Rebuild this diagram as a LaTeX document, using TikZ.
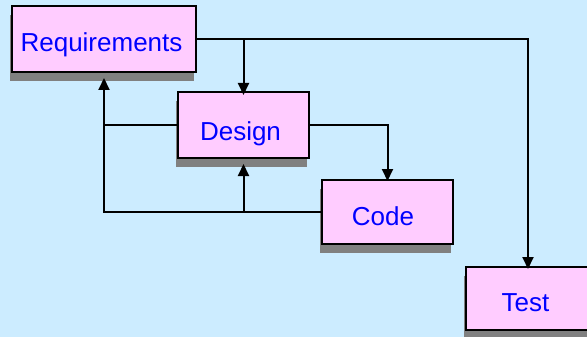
\documentclass[tikz,border=0pt]{standalone}
\usepackage{fontspec}
\setmainfont{Liberation Sans}
\usetikzlibrary{arrows.meta,calc}
\definecolor{bgblue}{RGB}{204,236,255}
\definecolor{boxpink}{RGB}{255,204,255}
\definecolor{shadowgray}{RGB}{128,128,128}
\definecolor{labelblue}{RGB}{0,0,255}
\tikzset{
  stage/.style={draw=black, line width=2pt, fill=boxpink, inner sep=0pt,
    minimum height=65pt, minimum width=131pt},
  stageshadow/.style={fill=shadowgray, draw=none, inner sep=0pt,
    minimum height=65pt, minimum width=131pt},
  stagetext/.style={anchor=base, text=labelblue, inner sep=0pt,
    font=\fontsize{26}{31}\selectfont},
  flow/.style={line width=2pt, draw=black},
  flowarrow/.style={flow, -{Triangle[length=12pt,width=11pt]}},
}
\begin{document}
\begin{tikzpicture}[x=1pt, y=-1pt]
  % canvas
  \fill[bgblue] (0,0) rectangle (587,337);
  \useasboundingbox (0,0) rectangle (587,337);
  \begin{scope}
    \clip (0,0) rectangle (587,337);
    % drop shadows
    \node[stageshadow, minimum width=184pt, minimum height=66pt] (reqsh) at (102,48) {};
    \node[stageshadow, minimum height=66pt] (dessh) at (241.5,134) {};
    \node[stageshadow, minimum height=64pt] (codesh) at (385.5,221) {};
    \node[stageshadow, minimum width=124pt, minimum height=63pt] (testsh) at (526,307.5) {};
    % stages
    \node[stage, minimum width=184pt, minimum height=66pt] (req) at (104,39) {};
    \node[stage, minimum height=66pt] (des) at (243.5,125) {};
    \node[stage, minimum height=64pt] (code) at (387.5,212) {};
    \node[stage, minimum width=124pt, minimum height=63pt] (test) at (528,298.5) {};
    % labels
    \node[stagetext] (reqt) at ($(req)+(-2.5,13)$) {Requirements};
    \node[stagetext] (dest) at ($(des)+(-3,15)$) {Design};
    \node[stagetext] (codet) at ($(code)+(-4.5,13)$) {Code};
    \node[stagetext] (testt) at ($(test)+(-2.5,12.5)$) {Test};
    % forward flow
    \draw[flowarrow, shorten >=-3pt] (req.east) -| (test.north);
    \draw[flowarrow, shorten >=-4pt] (req.east -| des.north) -- (des.north);
    \draw[flowarrow, shorten >=-2pt] (des.east) -| (code.north);
    % feedback
    \draw[flow] (code.west) -| (des.west -| req.south);
    \draw[flowarrow, shorten >=-5pt] (des.west) -| ($(req.south)+(0,10)$);
    \draw[flowarrow, shorten >=-5pt] (code.west -| des.south) -- ($(des.south)+(0,10)$);
  \end{scope}
\end{tikzpicture}
\end{document}
